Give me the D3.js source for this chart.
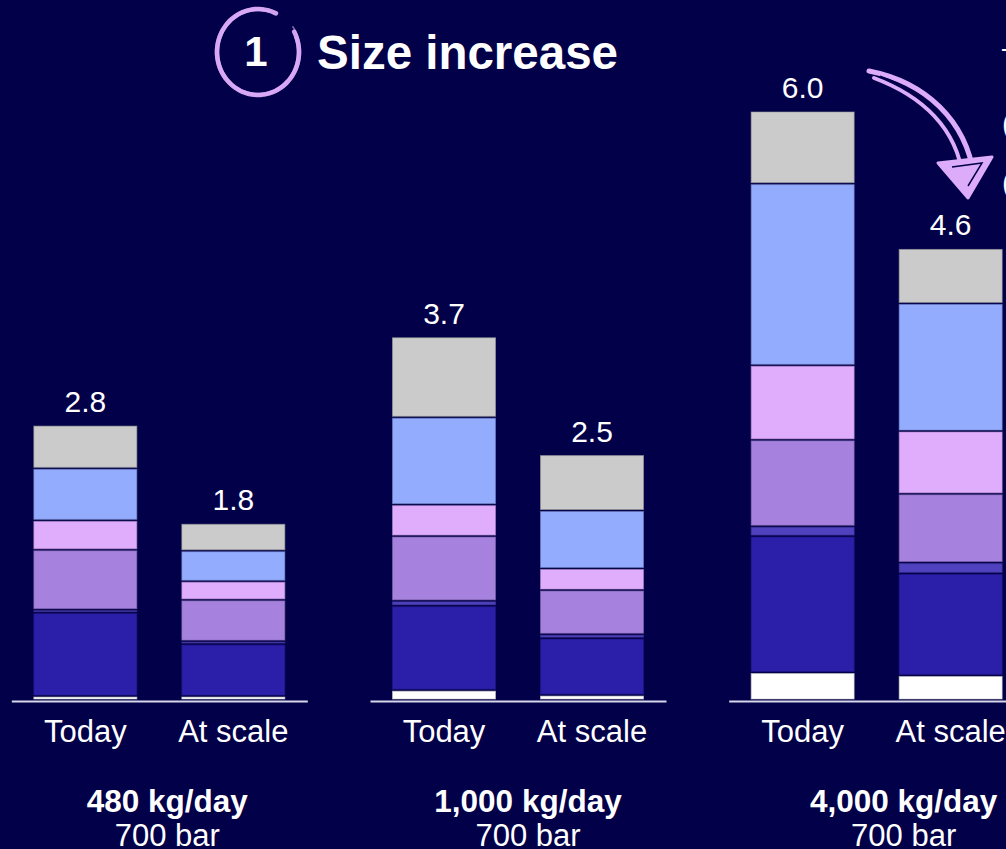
<!DOCTYPE html>
<html>
<head>
<meta charset="utf-8">
<script src="https://cdn.jsdelivr.net/npm/d3@7"></script>
<style>
  html, body { margin: 0; padding: 0; background: #020048; }
  svg { display: block; font-family: "Liberation Sans", Arial, sans-serif; }
</style>
</head>
<body>
<svg id="chart" width="1006" height="849"></svg>
<script>
// Plant capacities and the two cost cases shown for each
const capacities = ["480 kg/day", "1,000 kg/day", "4,000 kg/day"];
const pressures = ["700 bar", "700 bar", "700 bar"];
const stages = ["Today", "At scale"];

// Cost layers, one value per bar: 480 Today, 480 At scale, 1,000 Today, 1,000 At scale, 4,000 Today, 4,000 At scale
const layerBase      = [0.04, 0.04, 0.10, 0.05, 0.28, 0.25];
const layerMain      = [0.85, 0.53, 0.86, 0.58, 1.39, 1.04];
const layerThin      = [0.03, 0.03, 0.05, 0.04, 0.10, 0.11];
const layerPurple    = [0.61, 0.42, 0.66, 0.45, 0.88, 0.70];
const layerPink      = [0.30, 0.19, 0.32, 0.22, 0.76, 0.64];
const layerLightBlue = [0.53, 0.31, 0.89, 0.59, 1.85, 1.30];
const layerGray      = [0.44, 0.28, 0.82, 0.57, 0.74, 0.56];

const layerKeys = ["base", "main", "thin", "purple", "pink", "lightBlue", "gray"];
const layerValues = [layerBase, layerMain, layerThin, layerPurple, layerPink, layerLightBlue, layerGray];
const layerColors = ["#ffffff", "#2b1ea9", "#5041bf", "#a682de", "#e0adfd", "#94acfe", "#cbcbcb"];

const bars = [];
capacities.forEach((cap, gi) => {
  stages.forEach((st, si) => {
    const i = gi * stages.length + si;
    const row = { capacity: cap, stage: st };
    layerKeys.forEach((k, li) => { row[k] = layerValues[li][i]; });
    bars.push(row);
  });
});

const svg = d3.select("#chart");
const bg = "#020048";
const baseY = 700;

// Scales
const groupX = d3.scaleBand().domain(capacities).range([-20, 1056]).padding(0);
const gStep = groupX.bandwidth();
const stageX = d3.scaleBand().domain(stages)
  .range([gStep / 2 - 148, gStep / 2 + 148])
  .paddingInner(44 / 148).paddingOuter(22 / 148);
const y = d3.scaleLinear().domain([0, 6]).range([baseY, 111]);
const color = d3.scaleOrdinal().domain(layerKeys).range(layerColors);

const series = d3.stack().keys(layerKeys)(bars);

const groupsG = svg.append("g").selectAll("g.grp")
  .data(capacities).join("g")
  .attr("class", "grp")
  .attr("transform", d => `translate(${groupX(d)},0)`);

// Stacked segments
groupsG.each(function (cap) {
  const g = d3.select(this);
  series.forEach(s => {
    const pts = s.filter(p => p.data.capacity === cap);
    g.selectAll(null).data(pts).join("rect")
      .attr("x", p => stageX(p.data.stage) + 0.5)
      .attr("width", stageX.bandwidth() - 1)
      .attr("y", p => y(p[1]) + 1)
      .attr("height", p => Math.max(0.5, y(p[0]) - y(p[1]) - 2))
      .attr("fill", color(s.key))
      .attr("stroke", d3.color(color(s.key)).darker(0.7))
      .attr("stroke-opacity", 0.6)
      .attr("stroke-width", 1);
  });

  // Totals above each bar
  const totals = bars.filter(b => b.capacity === cap)
    .map(b => ({ stage: b.stage, total: d3.sum(layerKeys, k => b[k]) }));
  g.selectAll("text.total").data(totals).join("text")
    .attr("class", "total")
    .attr("x", d => stageX(d.stage) + stageX.bandwidth() / 2)
    .attr("y", d => y(d.total) - 13)
    .attr("text-anchor", "middle")
    .attr("fill", "#ffffff")
    .attr("font-size", 30)
    .text(d => d3.format(".1f")(d.total));

  // Baseline and stage labels
  const ax = g.append("g").attr("transform", `translate(0,${baseY + 1})`)
    .call(d3.axisBottom(stageX).tickSize(0).tickSizeOuter(0).tickPadding(19));
  ax.select(".domain").attr("stroke", "#d8d6ea").attr("stroke-width", 2);
  ax.selectAll(".tick text")
    .attr("fill", "#ffffff")
    .attr("font-size", 31)
    .attr("font-family", "Liberation Sans, Arial, sans-serif");
});

// Capacity captions under each pair
const captionNudge = [8, 10, 27];
capacities.forEach((cap, i) => {
  const cx = groupX(cap) + gStep / 2 + captionNudge[i];
  svg.append("text")
    .attr("x", cx).attr("y", 812)
    .attr("text-anchor", "middle")
    .attr("fill", "#ffffff").attr("font-size", 31.5).attr("font-weight", "bold")
    .text(cap);
  svg.append("text")
    .attr("x", cx).attr("y", 846)
    .attr("text-anchor", "middle")
    .attr("fill", "#ffffff").attr("font-size", 31)
    .text(pressures[i]);
});

// Heading with hand-drawn ring
const lav = "#dcabfa";
const ring = svg.append("g").attr("transform", "translate(258,52)");
const ringLine = d3.line().curve(d3.curveCatmullRom);
[[41, 43, -28, 298, 4.5, 0.95], [40, 42, -20, 290, 2.5, 0.8], [42.5, 44, -35, 280, 1.5, 0.6]]
  .forEach(([rx, ry, a0, a1, w, op]) => {
    const pts = d3.range(a0, a1 + 1, 6).map(a => {
      const t = a * Math.PI / 180;
      return [rx * Math.cos(t), ry * Math.sin(t)];
    });
    ring.append("path")
      .attr("d", ringLine(pts))
      .attr("fill", "none")
      .attr("stroke", lav)
      .attr("stroke-width", w)
      .attr("stroke-linecap", "round")
      .attr("opacity", op);
  });
ring.append("text")
  .attr("x", -2).attr("y", 14)
  .attr("text-anchor", "middle")
  .attr("fill", "#ffffff").attr("font-size", 42).attr("font-weight", "bold")
  .text("1");

svg.append("text")
  .attr("x", 317).attr("y", 69)
  .attr("fill", "#ffffff").attr("font-size", 47.5).attr("font-weight", "bold")
  .text("Size increase");

// Curved hand-drawn arrow
const arrow = svg.append("g");
arrow.append("path")
  .attr("d", "M869,71 C925,82 966,120 974,176")
  .attr("fill", "none").attr("stroke", lav).attr("stroke-width", 5).attr("stroke-linecap", "round");
arrow.append("path")
  .attr("d", "M874,78 C922,96 957,128 963,178")
  .attr("fill", "none").attr("stroke", lav).attr("stroke-width", 4).attr("stroke-linecap", "round");
arrow.append("path")
  .attr("d", "M880,76 C926,92 962,124 969,172")
  .attr("fill", "none").attr("stroke", bg).attr("stroke-width", 1.2);
arrow.append("path")
  .attr("d", "M938,163 L992,157 L968,198 Z")
  .attr("fill", lav).attr("stroke", lav).attr("stroke-width", 3).attr("stroke-linejoin", "round");
arrow.append("path")
  .attr("d", "M952,167 L982,163 L968,186")
  .attr("fill", "none").attr("stroke", bg).attr("stroke-width", 1.5);

// Annotation text running off the right edge
const sideNotes = [["–", 58], ["(", 134], ["(", 193]];
svg.selectAll("text.side").data(sideNotes).join("text")
  .attr("class", "side")
  .attr("x", 1002).attr("y", d => d[1])
  .attr("fill", "#ffffff").attr("font-size", 30)
  .text(d => d[0]);
</script>
</body>
</html>
